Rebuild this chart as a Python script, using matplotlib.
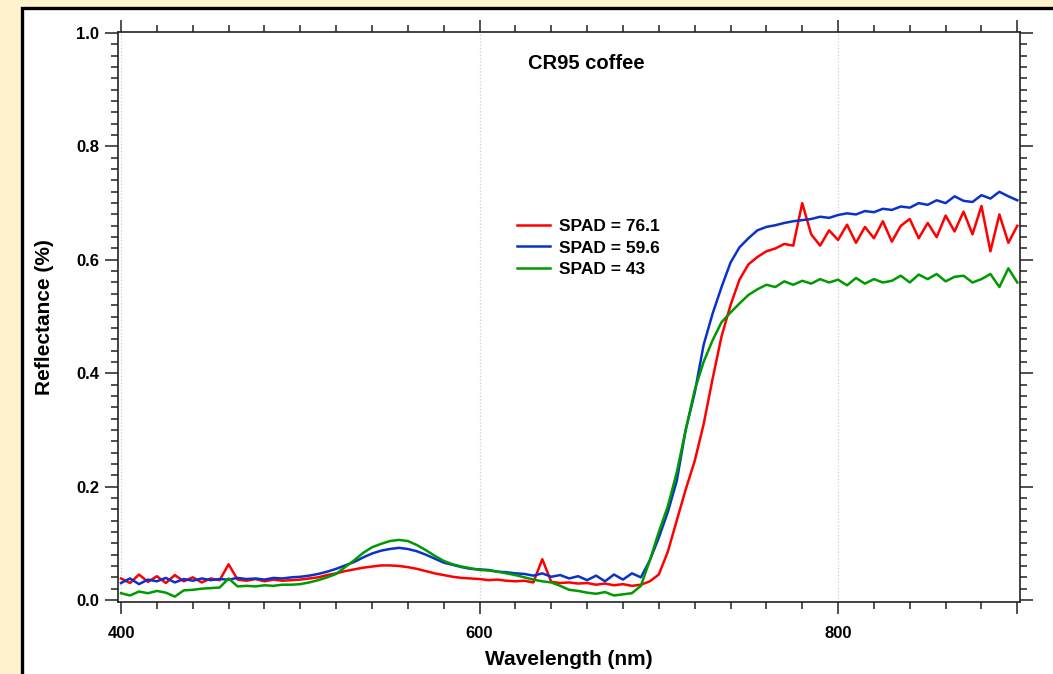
import numpy as np
import matplotlib
matplotlib.use('Agg')
import matplotlib.pyplot as plt
from matplotlib.patches import Rectangle
from matplotlib.ticker import MultipleLocator, FixedLocator

# wavelength grid (nm) and reflectance, 5 nm steps
wavelength = np.arange(400, 901, 5)

spad_76 = [0.038, 0.030, 0.045, 0.032, 0.042, 0.030, 0.044, 0.033, 0.040, 0.031,
           0.038, 0.035, 0.063, 0.036, 0.034, 0.037, 0.033, 0.036, 0.034, 0.035,
           0.036, 0.038, 0.040, 0.044, 0.047, 0.051, 0.054, 0.057, 0.059, 0.061,
           0.061, 0.060, 0.058, 0.055, 0.051, 0.047, 0.044, 0.041, 0.039, 0.038,
           0.037, 0.035, 0.036, 0.034, 0.033, 0.034, 0.031, 0.072, 0.032, 0.030,
           0.031, 0.029, 0.030, 0.027, 0.029, 0.026, 0.028, 0.025, 0.027, 0.033,
           0.045, 0.085, 0.140, 0.195, 0.245, 0.310, 0.390, 0.465, 0.520, 0.565,
           0.592, 0.605, 0.615, 0.620, 0.628, 0.625, 0.700, 0.645, 0.625, 0.652,
           0.635, 0.662, 0.630, 0.658, 0.638, 0.668, 0.632, 0.660, 0.672, 0.638,
           0.665, 0.640, 0.678, 0.650, 0.685, 0.645, 0.695, 0.615, 0.680, 0.630,
           0.660]

spad_60 = [0.030, 0.038, 0.028, 0.036, 0.033, 0.039, 0.031, 0.037, 0.034, 0.038,
           0.035, 0.037, 0.036, 0.039, 0.037, 0.038, 0.036, 0.039, 0.038, 0.040,
           0.041, 0.043, 0.046, 0.050, 0.055, 0.061, 0.067, 0.075, 0.082, 0.087,
           0.090, 0.092, 0.090, 0.086, 0.080, 0.073, 0.066, 0.062, 0.058, 0.055,
           0.054, 0.053, 0.050, 0.049, 0.047, 0.046, 0.043, 0.047, 0.041, 0.044,
           0.038, 0.042, 0.035, 0.043, 0.033, 0.045, 0.036, 0.047, 0.040, 0.070,
           0.110, 0.155, 0.210, 0.300, 0.365, 0.450, 0.505, 0.552, 0.595, 0.622,
           0.638, 0.652, 0.658, 0.661, 0.665, 0.668, 0.670, 0.672, 0.676, 0.674,
           0.679, 0.682, 0.680, 0.686, 0.684, 0.690, 0.688, 0.694, 0.692, 0.700,
           0.697, 0.705, 0.700, 0.712, 0.704, 0.702, 0.714, 0.708, 0.720, 0.712,
           0.705]

spad_43 = [0.012, 0.008, 0.015, 0.012, 0.016, 0.013, 0.006, 0.017, 0.018, 0.020,
           0.021, 0.022, 0.038, 0.024, 0.025, 0.024, 0.026, 0.025, 0.027, 0.027,
           0.028, 0.031, 0.035, 0.040, 0.046, 0.058, 0.070, 0.083, 0.093, 0.099,
           0.104, 0.106, 0.104, 0.097, 0.088, 0.078, 0.069, 0.063, 0.059, 0.056,
           0.053, 0.052, 0.050, 0.047, 0.044, 0.040, 0.036, 0.033, 0.031, 0.025,
           0.018, 0.016, 0.013, 0.011, 0.014, 0.008, 0.010, 0.012, 0.025, 0.070,
           0.120, 0.165, 0.225, 0.300, 0.370, 0.420, 0.458, 0.490, 0.507, 0.523,
           0.538, 0.548, 0.556, 0.552, 0.562, 0.556, 0.563, 0.558, 0.566, 0.560,
           0.565, 0.555, 0.568, 0.558, 0.566, 0.560, 0.563, 0.572, 0.560, 0.574,
           0.566, 0.575, 0.562, 0.570, 0.572, 0.560, 0.566, 0.575, 0.552, 0.585,
           0.560]

labels = ['SPAD = 76.1', 'SPAD = 59.6', 'SPAD = 43']
colors = ['#ff0000', '#0a32c8', '#009a00']
xticks = [400, 600, 800, 900]
xtick_labels = ['400', '600', '800', '']

plt.rcParams['font.family'] = ['Liberation Sans', 'DejaVu Sans']
plt.rcParams['font.weight'] = 'bold'

fig = plt.figure(figsize=(10.53, 6.74), dpi=100)
fig.patch.set_facecolor('#fff2cc')
# white panel with black border
fig.add_artist(Rectangle((21.5 / 1053, -0.1), 1.2, 1.1 - 8.5 / 674,
                         transform=fig.transFigure, facecolor='white',
                         edgecolor='black', lw=2.4, zorder=-1))

ax = fig.add_axes([118 / 1053, 1 - 602 / 674, 902 / 1053, 570 / 674])
ax.set_facecolor('white')

for y, lab, c in zip([spad_76, spad_60, spad_43], labels, colors):
    ax.plot(wavelength, y, color=c, lw=1.8, label=lab)

ax.set_xlim(398.3, 901.5)
ax.set_ylim(-0.0035, 1.0018)

ax.xaxis.set_major_locator(FixedLocator(xticks))
ax.set_xticklabels(xtick_labels)
ax.xaxis.set_minor_locator(MultipleLocator(20))
ax.yaxis.set_major_locator(MultipleLocator(0.2))
ax.yaxis.set_minor_locator(MultipleLocator(0.02))
ax.yaxis.set_major_formatter(matplotlib.ticker.FormatStrFormatter('%.1f'))

ax.tick_params(which='both', direction='out', top=True, right=True,
               width=1.1, color='#222222')
ax.tick_params(axis='y', which='major', length=9.4, labelsize=12, pad=4)
ax.tick_params(axis='y', which='minor', length=5)
ax.tick_params(axis='x', which='major', length=8.6, labelsize=12, pad=9)
ax.tick_params(axis='x', which='minor', length=4.7)
for s in ax.spines.values():
    s.set_linewidth(1.2)
    s.set_color('#222222')

ax.grid(axis='x', which='major', color='#cccccc', ls=':', lw=0.9)
ax.xaxis.get_gridlines()[-1].set_visible(False)
ax.set_axisbelow(True)

ax.set_xlabel('Wavelength (nm)', fontsize=15, fontweight='bold', labelpad=6.5)
ax.set_ylabel('Reflectance (%)', fontsize=15, fontweight='bold', labelpad=16)

ax.text(0.519, 0.9456, 'CR95 coffee', transform=ax.transAxes, ha='center',
        va='center', fontsize=14.5, fontweight='bold')

ax.legend(loc='upper left', bbox_to_anchor=(0.4424, 0.672), frameon=False,
          fontsize=12.5, handlelength=1.9, handletextpad=0.5, labelspacing=0.36,
          borderpad=0, borderaxespad=0)

fig.savefig('out.png', dpi=100, facecolor=fig.get_facecolor())
